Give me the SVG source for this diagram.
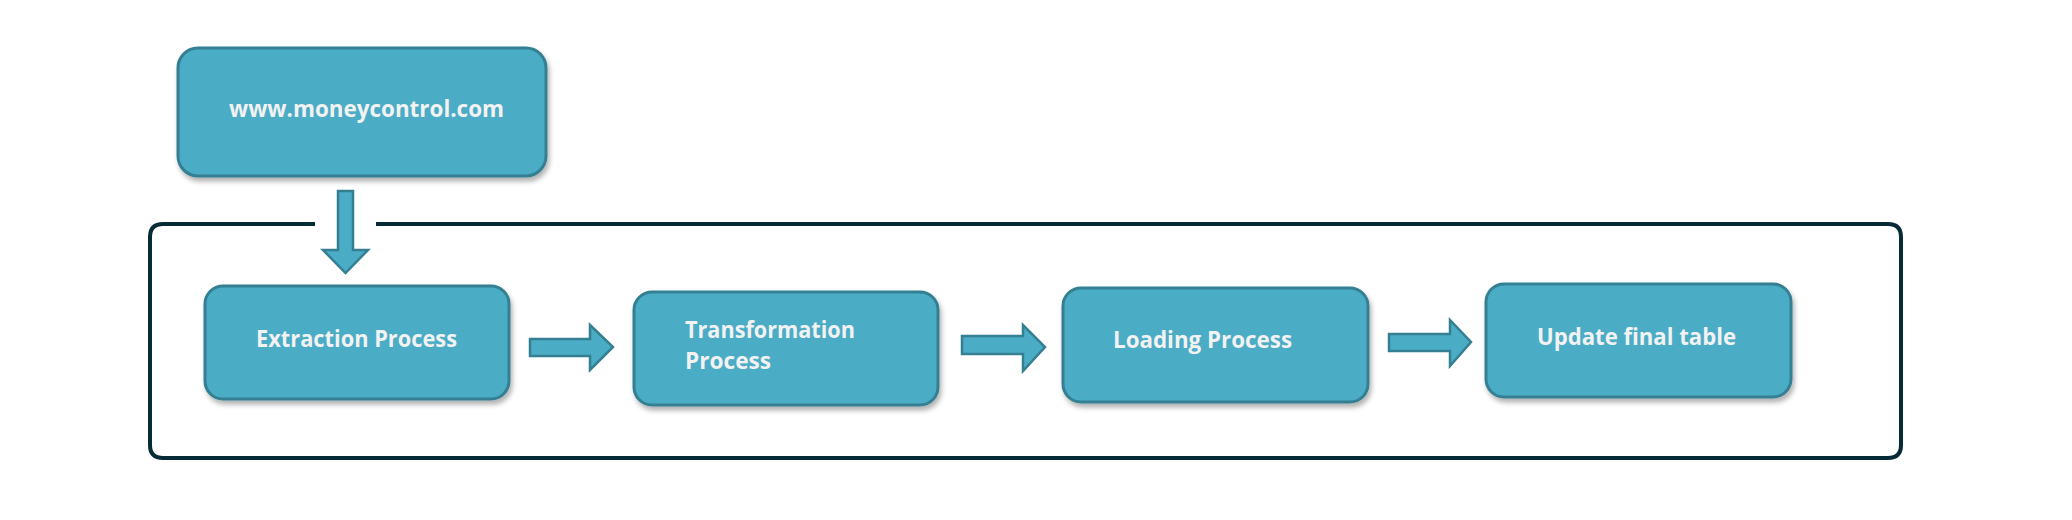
<svg xmlns="http://www.w3.org/2000/svg" width="2072" height="520" viewBox="0 0 2072 520">
<defs>
<filter id="sh" x="-10%" y="-10%" width="125%" height="135%">
<feDropShadow dx="2" dy="4" stdDeviation="2.5" flood-color="#000" flood-opacity="0.3"/>
</filter>
<style>
.box{fill:#4bacc6;stroke:#357f93;stroke-width:3;filter:url(#sh)}
.arr{fill:#4bacc6;stroke:#357f93;stroke-width:2.5;stroke-linejoin:miter}
.lbl{font-family:"Open Sans","Liberation Sans",sans-serif;font-weight:700;font-size:23.5px;fill:#f2f2f2}
.frame{fill:none;stroke:#062b36;stroke-width:4}
</style>
</defs>
<rect width="2072" height="520" fill="#ffffff"/>
<g id="container">
<path class="frame" d="M315,224 H163 Q150,224 150,237 V445 Q150,458 163,458 H1888 Q1901,458 1901,445 V237 Q1901,224 1888,224 H376"/>
</g>
<g id="source">
<rect class="box" x="178" y="48" width="368" height="128" rx="20"/>
<text class="lbl" x="229" y="117" textLength="275" lengthAdjust="spacingAndGlyphs">www.moneycontrol.com</text>
</g>
<g id="extraction">
<rect class="box" x="205" y="286" width="304" height="113" rx="18"/>
<text class="lbl" x="256" y="347" textLength="201" lengthAdjust="spacingAndGlyphs">Extraction Process</text>
</g>
<g id="transformation">
<rect class="box" x="634" y="292" width="304" height="113" rx="18"/>
<text class="lbl" x="685" y="338" textLength="170" lengthAdjust="spacingAndGlyphs">Transformation</text>
<text class="lbl" x="685" y="369" textLength="86" lengthAdjust="spacingAndGlyphs">Process</text>
</g>
<g id="loading">
<rect class="box" x="1063" y="288" width="305" height="114" rx="18"/>
<text class="lbl" x="1113" y="348" textLength="179" lengthAdjust="spacingAndGlyphs">Loading Process</text>
</g>
<g id="update">
<rect class="box" x="1486" y="284" width="305" height="113" rx="18"/>
<text class="lbl" x="1537" y="345" textLength="199" lengthAdjust="spacingAndGlyphs">Update final table</text>
</g>
<g id="connectors">
<path class="arr" d="M338,191 H353 V250 H368 L345.5,273 L323,250 H338 Z"/>
<path class="arr" d="M530,339 H590 V325 L613,347 L590,370 V356 H530 Z"/>
<path class="arr" d="M962,336 H1023 V325 L1045,347 L1023,371 V354 H962 Z"/>
<path class="arr" d="M1389,334 H1450 V320 L1471,342 L1450,366 V351 H1389 Z"/>
</g>
</svg>
